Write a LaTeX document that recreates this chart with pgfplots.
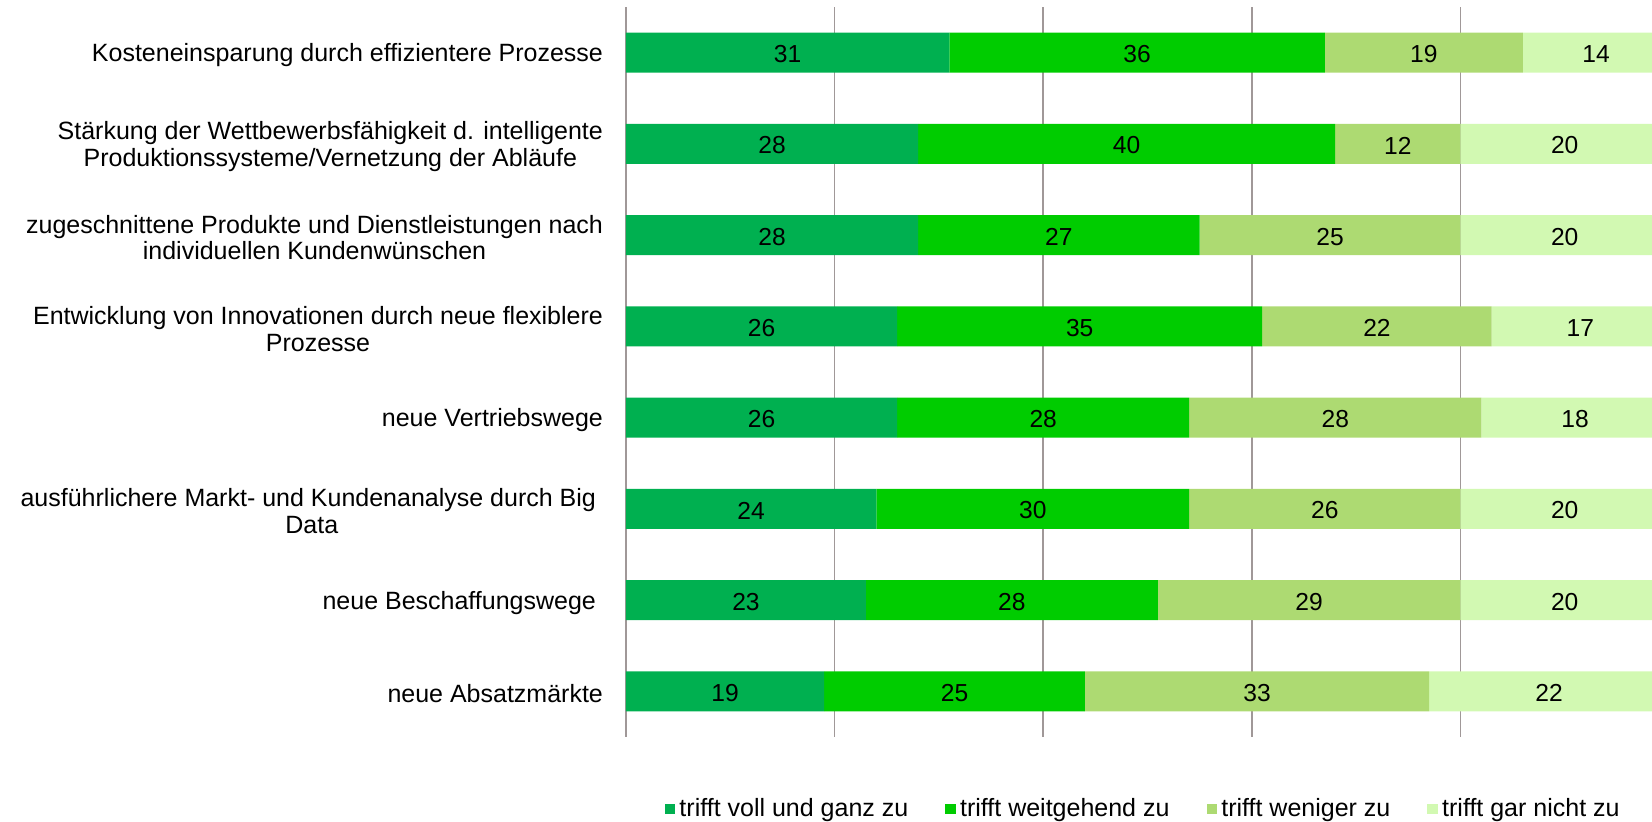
\documentclass[border=0pt]{standalone}
\usepackage{pgfplots}
\usepackage{pgfplotstable}
\pgfplotsset{compat=1.18}
\usepackage{fontspec}
\setmainfont{Liberation Sans}
\definecolor{c1}{HTML}{00B050}
\definecolor{c2}{HTML}{00CC00}
\definecolor{c3}{HTML}{ADDA72}
\definecolor{c4}{HTML}{D2F9B2}
\definecolor{gridc}{HTML}{A09898}

\pgfplotstableread{
y a b c d
0 31 36 19 14
1 28 40 12 20
2 28 27 25 20
3 26 35 22 17
4 26 28 28 18
5 24 30 26 20
6 23 28 29 20
7 19 25 33 22
}\data

\pgfplotstableread{
x y v
15.5 0 31
49 0 36
76.5 0 19
93 0 14
14 1 28
48 1 40
74 1 12
90 1 20
14 2 28
41.5 2 27
67.5 2 25
90 2 20
13 3 26
43.5 3 35
72 3 22
91.5 3 17
13 4 26
40 4 28
68 4 28
91 4 18
12 5 24
39 5 30
67 5 26
90 5 20
11.5 6 23
37 6 28
65.5 6 29
90 6 20
9.5 7 19
31.5 7 25
60.5 7 33
88.5 7 22
}\labels

\begin{document}
\begin{tikzpicture}[font=\fontsize{12.5}{13.4}\selectfont]
\pgfplotsset{common/.style={width=513pt, height=365pt, scale only axis,
  xmin=0, xmax=98.37, ymin=-0.5, ymax=7.5, y dir=reverse,
  at={(0,0)}, anchor=south west}}
\begin{axis}[common, xbar stacked, bar width=20pt,
  axis line style={draw=none},
  xtick={0,20,40,60,80}, xticklabels={},
  xmajorgrids, major grid style={gridc, line width=0.9pt},
  major tick length=0pt,
  ytick={0,...,7},
  yticklabels={
    {Kosteneinsparung durch effizientere Prozesse},
    {Stärkung der Wettbewerbsfähigkeit d. intelligente\\Produktionssysteme/Vernetzung der Abläufe},
    {zugeschnittene Produkte und Dienstleistungen nach\\individuellen Kundenwünschen},
    {Entwicklung von Innovationen durch neue flexiblere\\Prozesse},
    {neue Vertriebswege},
    {ausführlichere Markt- und Kundenanalyse durch Big\hspace*{0.28em}\\Data},
    {neue Beschaffungswege\hspace*{0.28em}},
    {neue Absatzmärkte}},
  yticklabel style={align=center, anchor=east, xshift=-8pt, yshift=-1.2pt, font=\fontsize{12.5}{13.4}\selectfont},
  legend columns=4,
  legend style={at={(0.505,0)}, anchor=center, yshift=-36pt, draw=none, fill=none,
    font=\fontsize{12.5}{13.4}\selectfont,
    /tikz/every even column/.append style={column sep=16.5pt},
    inner sep=0pt},
  legend image code/.code={\fill (0pt,-2.7pt) rectangle (5.4pt,2.7pt);},
  legend cell align=left,
]
\addplot[fill=c1, draw=none] table[x=a, y=y]{\data};
\addlegendentry{trifft voll und ganz zu}
\addplot[fill=c2, draw=none] table[x=b, y=y]{\data};
\addlegendentry{trifft weitgehend zu}
\addplot[fill=c3, draw=none] table[x=c, y=y]{\data};
\addlegendentry{trifft weniger zu}
\addplot[fill=c4, draw=none] table[x=d, y=y]{\data};
\addlegendentry{trifft gar nicht zu}
\end{axis}
\begin{axis}[common, hide axis]
\addplot[draw=none, mark=none, nodes near coords, point meta=explicit symbolic,
  every node near coord/.style={anchor=center, yshift=-0.8pt, font=\fontsize{12.3}{13.4}\selectfont, text=black}]
  table[x=x, y=y, meta=v]{\labels};
\end{axis}
\pgfresetboundingbox
\useasboundingbox (-313pt,-42pt) rectangle (513pt,368.5pt);
\end{tikzpicture}
\end{document}
